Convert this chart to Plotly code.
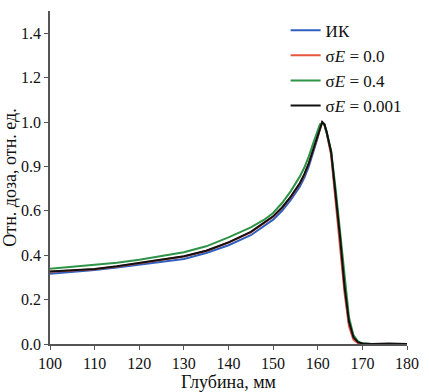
import plotly.graph_objects as go

depth = [100, 105, 110, 115, 120, 125, 130, 135, 140, 145, 148, 150, 152, 154, 156, 157, 158, 159,
         160, 160.5, 161, 161.5, 162, 163, 164, 165, 166, 167, 168, 169, 170, 172, 176, 180]

dose_ik = [0.317, 0.325, 0.333, 0.345, 0.358, 0.370, 0.383, 0.410, 0.445, 0.490, 0.530, 0.560, 0.600,
           0.650, 0.710, 0.750, 0.800, 0.860, 0.930, 0.970, 1.000, 0.990, 0.955, 0.860, 0.670, 0.470,
           0.250, 0.090, 0.025, 0.006, 0.001, 0.0, 0.0, 0.0]

dose_s00 = [0.325, 0.331, 0.337, 0.349, 0.364, 0.379, 0.394, 0.419, 0.457, 0.503, 0.543, 0.573, 0.613,
            0.663, 0.723, 0.763, 0.813, 0.873, 0.938, 0.973, 0.998, 0.988, 0.950, 0.850, 0.650, 0.445,
            0.230, 0.080, 0.020, 0.004, 0.001, 0.0, 0.0, 0.0]

dose_s04 = [0.339, 0.347, 0.356, 0.366, 0.380, 0.395, 0.413, 0.440, 0.480, 0.525, 0.560, 0.590, 0.635,
            0.690, 0.755, 0.795, 0.845, 0.905, 0.965, 0.990, 0.995, 0.985, 0.950, 0.870, 0.700, 0.510,
            0.290, 0.120, 0.040, 0.012, 0.003, 0.0, 0.0, 0.0]

dose_s0001 = [0.327, 0.332, 0.338, 0.350, 0.365, 0.380, 0.395, 0.420, 0.458, 0.505, 0.545, 0.575, 0.615,
              0.665, 0.725, 0.765, 0.815, 0.875, 0.940, 0.975, 1.000, 0.990, 0.955, 0.865, 0.680, 0.480,
              0.260, 0.100, 0.030, 0.008, 0.002, 0.0, 0.002, 0.0]

series = [
    ("ИК", dose_ik, "#2f5fbf"),
    ("σ<i>E</i> = 0.0", dose_s00, "#e8553f"),
    ("σ<i>E</i> = 0.4", dose_s04, "#2e9447"),
    ("σ<i>E</i> = 0.001", dose_s0001, "#111111"),
]

y_tickvals = [0.0, 0.2, 0.4, 0.6, 0.8, 1.0, 1.2, 1.4]
y_ticktext = ["0.0", "0.2", "0.4", "0.6", "0.9", "1.0", "1.2", "1.4"]
x_tickvals = [100, 110, 120, 130, 140, 150, 160, 170, 180]

font_family = "Liberation Serif, Times New Roman, serif"

fig = go.Figure()
for name, vals, color in series:
    fig.add_trace(go.Scatter(x=depth, y=vals, mode="lines", name=name,
                             line=dict(color=color, width=2)))

fig.update_layout(
    width=429, height=392,
    margin=dict(l=50, r=22, t=11, b=48, autoexpand=False),
    paper_bgcolor="white", plot_bgcolor="white",
    font=dict(family=font_family, size=16, color="#111111"),
    showlegend=True,
    legend=dict(x=0.66, y=0.995, xanchor="left", yanchor="top",
                bgcolor="rgba(0,0,0,0)", font=dict(size=17, family=font_family),
                tracegroupgap=0, itemwidth=30),
)
fig.update_xaxes(range=[100, 180], tickvals=x_tickvals, showline=True, linecolor="#555555",
                 linewidth=1.5, ticks="outside", ticklen=4, tickcolor="#555555",
                 showgrid=False, zeroline=False, automargin=True,
                 title=dict(text="Глубина, мм", font=dict(size=18), standoff=0),
                 tickfont=dict(size=16))
fig.update_yaxes(range=[0, 1.5], tickvals=y_tickvals, ticktext=y_ticktext, showline=True,
                 linecolor="#555555", linewidth=1.5, ticks="outside", ticklen=4,
                 tickcolor="#555555", showgrid=False, zeroline=False, automargin=True,
                 title=dict(text="Отн. доза, отн. ед.", font=dict(size=18), standoff=2),
                 tickfont=dict(size=16))

fig.write_html("out.html", config={"displayModeBar": False},
               post_script="document.body.style.margin='0';")
